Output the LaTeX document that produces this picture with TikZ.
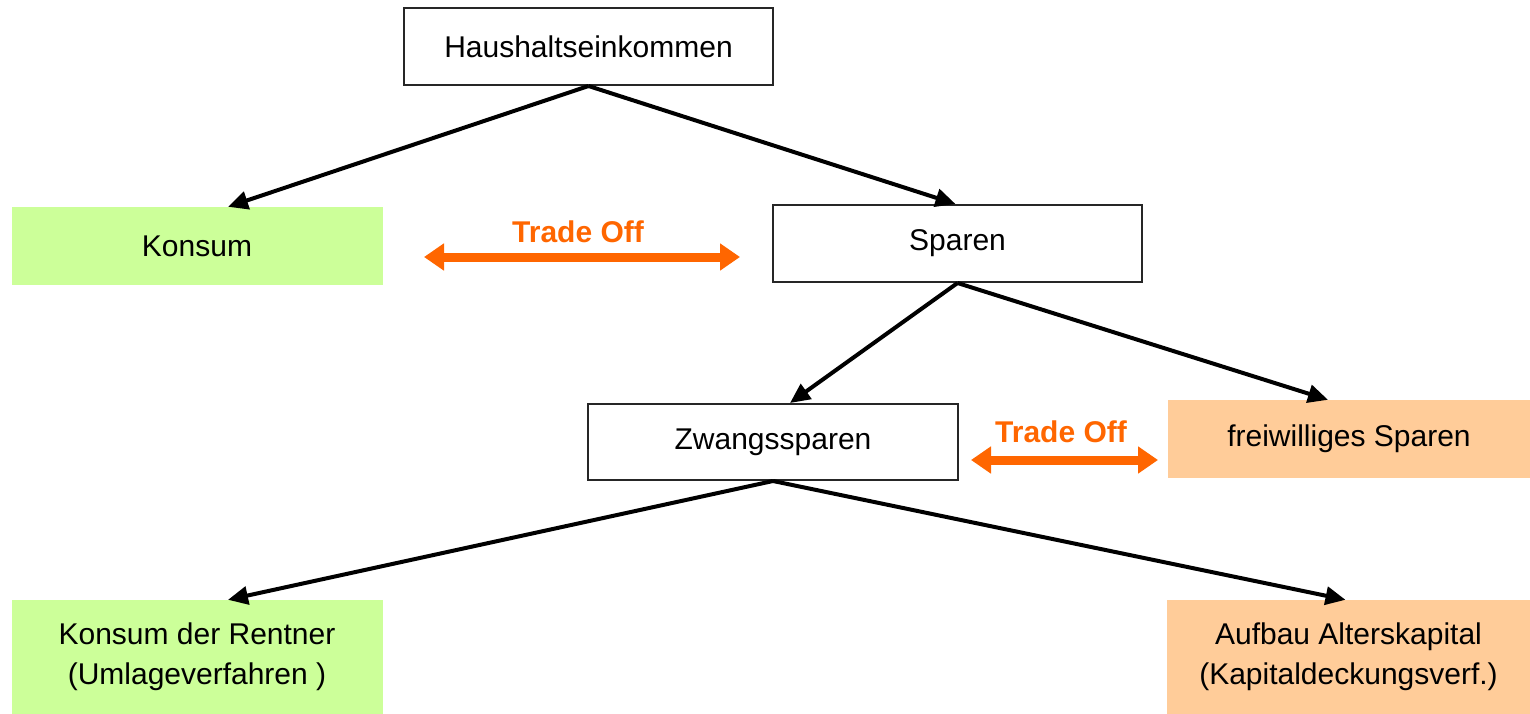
\documentclass[tikz,border=0pt]{standalone}
\usepackage{fontspec}
\setmainfont{Liberation Sans}
\usetikzlibrary{arrows.meta}
\definecolor{lgreen}{HTML}{CCFF99}
\definecolor{lpeach}{HTML}{FFCC99}
\definecolor{torange}{HTML}{FF6600}
\begin{document}
\begin{tikzpicture}[x=1pt,y=-1pt,
  every node/.style={font=\fontsize{30}{40}\selectfont, inner sep=0pt, align=center},
  wbox/.style={draw=black!85, line width=2pt, fill=white},
  gbox/.style={fill=lgreen},
  pbox/.style={fill=lpeach},
  flow/.style={line width=4pt, -{Triangle[length=20pt,width=18pt]}},
  trade/.style={draw=torange, line width=9pt, {Triangle[length=20pt,width=26pt]}-{Triangle[length=20pt,width=26pt]}},
  tlabel/.style={text=torange, font=\fontsize{30}{36}\selectfont\bfseries}]
\useasboundingbox (0,0) rectangle (1530,714);
\node[wbox, minimum width=369pt, minimum height=77pt] (hh) at (588.5,46.5) {Haushaltseinkommen};
\node[gbox, minimum width=371pt, minimum height=78pt] (konsum) at (197,246) {Konsum};
\node[wbox, minimum width=369pt, minimum height=77pt] (sparen) at (957.5,243.5) {Sparen};
\node[wbox, minimum width=370pt, minimum height=76pt] (zwang) at (773,442) {Zwangssparen};
\node[pbox, minimum width=362pt, minimum height=78pt] (frei) at (1349,439) {freiwilliges Sparen};
\node[gbox, minimum width=371pt, minimum height=114pt] (rentner) at (197,657) {Konsum der Rentner\\(Umlageverfahren )};
\node[pbox, minimum width=363pt, minimum height=114pt] (aufbau) at (1348.5,657) {Aufbau Alterskapital\\(Kapitaldeckungsverf.)};
\draw[flow] (hh.south) -- ([xshift=31pt]konsum.north);
\draw[flow] (hh.south) -- ([xshift=-2pt]sparen.north);
\draw[flow] (sparen.south) -- ([xshift=17pt]zwang.north);
\draw[flow] (sparen.south) -- ([xshift=-21pt]frei.north);
\draw[flow] (zwang.south) -- ([xshift=31pt]rentner.north);
\draw[flow] (zwang.south) -- ([xshift=-3pt]aufbau.north);
\coordinate (t1a) at (424,257);
\coordinate (t1b) at (740,257);
\draw[trade] (t1a) -- (t1b);
\node[tlabel] (t1l) at (578,232) {Trade Off};
\coordinate (t2a) at (971,460);
\coordinate (t2b) at (1158,460);
\draw[trade] (t2a) -- (t2b);
\node[tlabel] (t2l) at (1061,432) {Trade Off};
\end{tikzpicture}
\end{document}
